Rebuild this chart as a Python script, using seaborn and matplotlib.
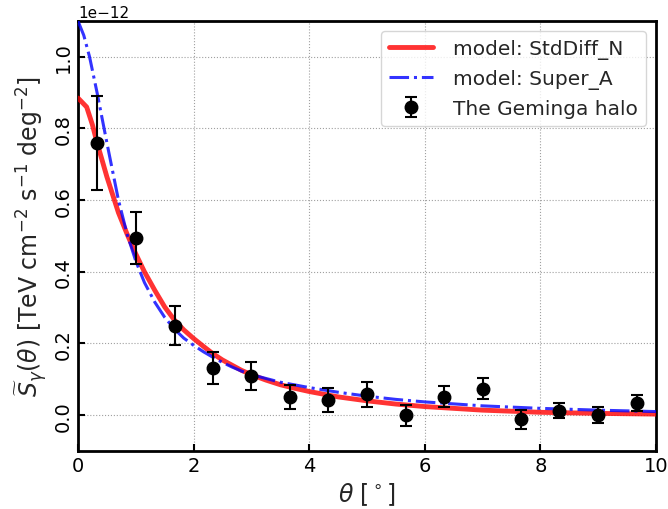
import numpy as np
import pandas as pd
import matplotlib
matplotlib.use("Agg")
import matplotlib.pyplot as plt
import seaborn as sns

# data (units of 1e-12 TeV cm^-2 s^-1 deg^-2)
theta_data = [0.33, 1.0, 1.67, 2.33, 3.0, 3.67, 4.33, 5.0, 5.67, 6.33, 7.0, 7.67, 8.33, 9.0, 9.67]
flux_data = [0.76, 0.495, 0.25, 0.132, 0.109, 0.05, 0.042, 0.058, 0.0, 0.052, 0.074, -0.012, 0.013, 0.0, 0.034]
flux_err = [0.132, 0.073, 0.055, 0.045, 0.04, 0.033, 0.034, 0.034, 0.029, 0.029, 0.029, 0.027, 0.022, 0.022, 0.022]

theta_std = [0.0, 0.15, 0.25, 0.33, 0.42, 0.5, 0.6, 0.7, 0.85, 1.0, 1.15, 1.33, 1.5, 1.67, 1.83, 2.0, 2.17, 2.33, 2.5, 2.67, 2.83, 3.0,
             3.25, 3.5, 3.75, 4.0, 4.5, 5.0, 5.5, 6.0, 6.5, 7.0, 7.5, 8.0, 8.5, 9.0, 9.5, 10.0]
flux_std = [0.885, 0.86, 0.81, 0.76, 0.71, 0.665, 0.615, 0.565, 0.505, 0.45, 0.4, 0.348, 0.302, 0.265, 0.238, 0.214, 0.192, 0.172, 0.154, 0.139, 0.125, 0.113,
            0.098, 0.085, 0.075, 0.066, 0.051, 0.04, 0.031, 0.024, 0.019, 0.014, 0.011, 0.008, 0.0065, 0.005, 0.004, 0.003]

theta_sup = [0.0, 0.1, 0.2, 0.33, 0.5, 0.7, 0.85, 1.0, 1.15, 1.33, 1.5, 1.67, 1.83, 2.0, 2.17, 2.33, 2.5, 2.67, 2.83, 3.0,
             3.5, 4.0, 4.5, 5.0, 5.5, 6.0, 7.0, 8.0, 9.0, 10.0]
flux_sup = [1.1, 1.06, 1.0, 0.9, 0.76, 0.6, 0.505, 0.43, 0.37, 0.315, 0.273, 0.24, 0.215, 0.195, 0.177, 0.162, 0.147, 0.134, 0.123, 0.113,
            0.092, 0.077, 0.064, 0.053, 0.044, 0.037, 0.026, 0.019, 0.014, 0.01]

sns.set_theme(style="white")
plt.rcParams['font.family'] = ['DejaVu Sans']
plt.rcParams['mathtext.fontset'] = 'dejavusans'

fig = plt.figure(figsize=(6.68, 5.10), dpi=100)
ax = fig.add_axes([78/668, 1-452/510, (656-78)/668, (452-22)/510])

scale = 1e-12
df_std = pd.DataFrame({"theta": theta_std, "flux": np.array(flux_std) * scale})
df_sup = pd.DataFrame({"theta": theta_sup, "flux": np.array(flux_sup) * scale})

sns.lineplot(data=df_std, x="theta", y="flux", ax=ax, color="red", alpha=0.8, lw=3.5,
             label="model: StdDiff_N", zorder=3)
sns.lineplot(data=df_sup, x="theta", y="flux", ax=ax, color="blue", alpha=0.8, lw=2.2,
             label="model: Super_A", zorder=4)
ax.lines[-1].set_linestyle("-.")
ax.errorbar(theta_data, np.array(flux_data) * scale, yerr=np.array(flux_err) * scale,
            fmt="o", color="black", ms=9, capsize=4, elinewidth=1.5, capthick=1.5,
            label="The Geminga halo", zorder=5)

ax.set_xlim(0, 10)
ax.set_ylim(-0.1e-12, 1.1e-12)
ax.set_xticks([0, 2, 4, 6, 8, 10])
ax.set_yticks(np.array([0.0, 0.2, 0.4, 0.6, 0.8, 1.0]) * scale)
ax.grid(True, linestyle=":", color="#a0a0a0", linewidth=0.8)
ax.tick_params(direction="in", labelsize=14, length=5, width=1.5, colors="black",
               bottom=True, left=True)
for lab in ax.get_yticklabels():
    lab.set_rotation(90)
    lab.set_va("center")
ax.yaxis.get_offset_text().set_fontsize(11)
for s in ax.spines.values():
    s.set_color("black")
    s.set_linewidth(2)

ax.set_xlabel(r"$\theta$ [$^\circ$]", fontsize=17)
ax.set_ylabel(r"$\widetilde{S}_\gamma(\theta)$ [TeV cm$^{-2}$ s$^{-1}$ deg$^{-2}$]", fontsize=17)

handles, labels = ax.get_legend_handles_labels()
ax.legend(handles, labels, loc="upper right", fontsize=14.5, frameon=True, framealpha=0.8,
          handlelength=2.2, handletextpad=1.0)

fig.savefig("out.png", dpi=100)
